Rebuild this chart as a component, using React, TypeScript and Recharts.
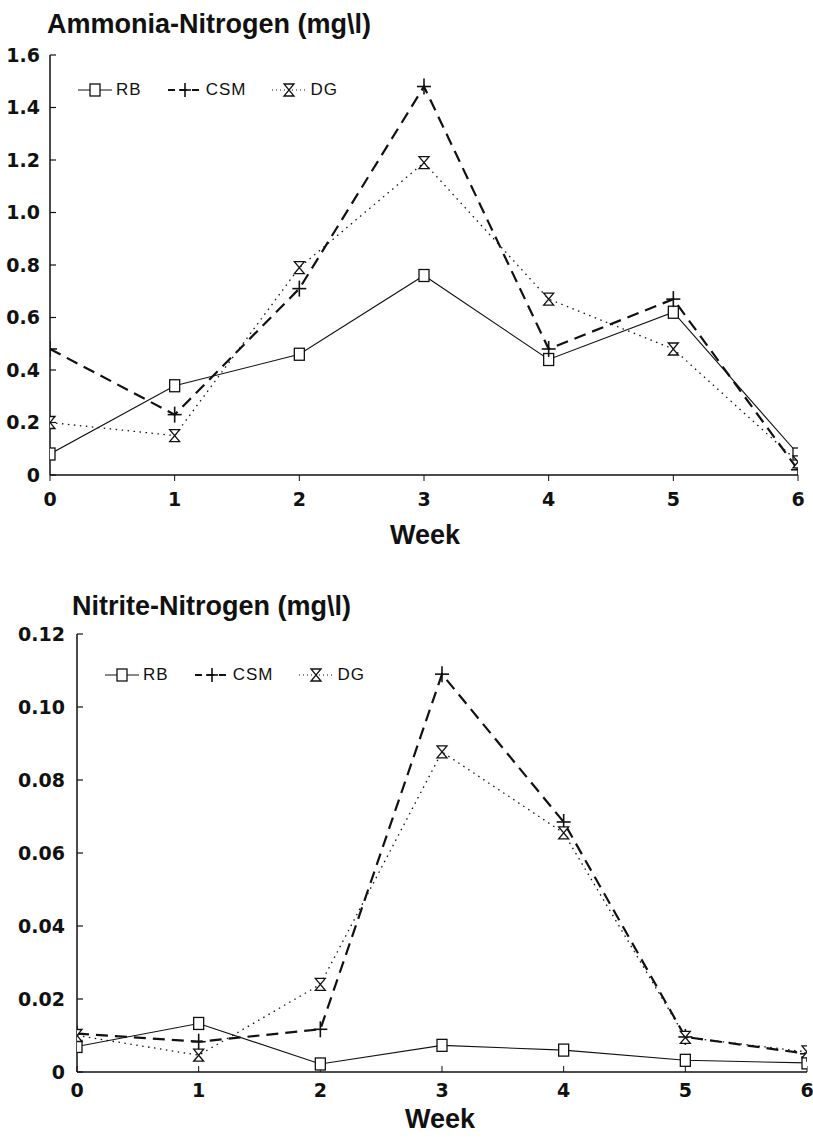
import React from "react";
import { LineChart, Line, XAxis, YAxis } from "recharts";

const weeks = [0, 1, 2, 3, 4, 5, 6];

const ammoniaRB = [0.08, 0.34, 0.46, 0.76, 0.44, 0.62, 0.08];
const ammoniaCSM = [0.48, 0.23, 0.71, 1.48, 0.48, 0.67, 0.02];
const ammoniaDG = [0.2, 0.15, 0.79, 1.19, 0.67, 0.48, 0.05];

const nitriteRB = [0.007, 0.0133, 0.0022, 0.0073, 0.006, 0.0032, 0.0025];
const nitriteCSM = [0.0105, 0.0083, 0.0117, 0.109, 0.0685, 0.0096, 0.005];
const nitriteDG = [0.01, 0.0046, 0.024, 0.0877, 0.0655, 0.0095, 0.0055];

const ammoniaTicks = [0, 0.2, 0.4, 0.6, 0.8, 1.0, 1.2, 1.4, 1.6];
const nitriteTicks = [0, 0.02, 0.04, 0.06, 0.08, 0.1, 0.12];

const seriesNames = ["RB", "CSM", "DG"];

const ammoniaData = weeks.map((w, i) => ({
  week: w,
  RB: ammoniaRB[i],
  CSM: ammoniaCSM[i],
  DG: ammoniaDG[i],
}));
const nitriteData = weeks.map((w, i) => ({
  week: w,
  RB: nitriteRB[i],
  CSM: nitriteCSM[i],
  DG: nitriteDG[i],
}));

const INK = "#111";
const FONT = "'DejaVu Sans', Arial, sans-serif";

function SquareDot(props: any) {
  const { cx, cy } = props;
  if (cx == null || cy == null) return null;
  return <rect x={cx - 5} y={cy - 6} width={10} height={12} fill="#fff" stroke={INK} strokeWidth={1.3} />;
}
function PlusDot(props: any) {
  const { cx, cy } = props;
  if (cx == null || cy == null) return null;
  return (
    <g stroke={INK} strokeWidth={1.6}>
      <line x1={cx - 7} y1={cy} x2={cx + 7} y2={cy} />
      <line x1={cx} y1={cy - 8} x2={cx} y2={cy + 8} />
    </g>
  );
}
function HourglassDot(props: any) {
  const { cx, cy } = props;
  if (cx == null || cy == null) return null;
  return (
    <path
      d={`M${cx - 5},${cy - 6} L${cx + 5},${cy - 6} L${cx - 5},${cy + 6} L${cx + 5},${cy + 6} Z`}
      fill="#fff"
      stroke={INK}
      strokeWidth={1.3}
    />
  );
}

function LegendSymbol({ kind }: { kind: string }) {
  const w = 34;
  if (kind === "RB") {
    return (
      <svg width={w} height={16} style={{ verticalAlign: "middle" }}>
        <line x1={0} y1={8} x2={w} y2={8} stroke={INK} strokeWidth={1.2} />
        <rect x={w / 2 - 5} y={2} width={10} height={12} fill="#fff" stroke={INK} strokeWidth={1.3} />
      </svg>
    );
  }
  if (kind === "CSM") {
    return (
      <svg width={w} height={16} style={{ verticalAlign: "middle" }}>
        <line x1={0} y1={8} x2={w} y2={8} stroke={INK} strokeWidth={2} strokeDasharray="7 5" />
        <line x1={w / 2 - 6} y1={8} x2={w / 2 + 6} y2={8} stroke={INK} strokeWidth={1.6} />
        <line x1={w / 2} y1={1} x2={w / 2} y2={15} stroke={INK} strokeWidth={1.6} />
      </svg>
    );
  }
  return (
    <svg width={w} height={16} style={{ verticalAlign: "middle" }}>
      <line x1={0} y1={8} x2={w} y2={8} stroke={INK} strokeWidth={1.2} strokeDasharray="1 3" />
      <path
        d={`M${w / 2 - 5},2 L${w / 2 + 5},2 L${w / 2 - 5},14 L${w / 2 + 5},14 Z`}
        fill="#fff"
        stroke={INK}
        strokeWidth={1.3}
      />
    </svg>
  );
}

function LegendRow({ left, top }: { left: number; top: number }) {
  return (
    <div
      style={{
        position: "absolute",
        left,
        top,
        display: "flex",
        alignItems: "center",
        fontFamily: "Arial, 'Liberation Sans', sans-serif",
        fontSize: 17,
        letterSpacing: 1,
        color: INK,
      }}
    >
      {seriesNames.map((n) => (
        <span key={n} style={{ display: "flex", alignItems: "center", marginRight: 26 }}>
          <LegendSymbol kind={n} />
          <span style={{ marginLeft: 4 }}>{n}</span>
        </span>
      ))}
    </div>
  );
}

const tickStyle = { fontFamily: FONT, fontWeight: 700, fontSize: 19, fill: INK };

function renderLines() {
  return [
    <Line
      key="RB"
      type="linear"
      dataKey="RB"
      stroke={INK}
      strokeWidth={1.1}
      dot={<SquareDot />}
      activeDot={false}
      isAnimationActive={false}
    />,
    <Line
      key="CSM"
      type="linear"
      dataKey="CSM"
      stroke={INK}
      strokeWidth={2.2}
      strokeDasharray="12 7"
      dot={<PlusDot />}
      activeDot={false}
      isAnimationActive={false}
    />,
    <Line
      key="DG"
      type="linear"
      dataKey="DG"
      stroke={INK}
      strokeWidth={1.3}
      strokeDasharray="1.5 4.5"
      dot={<HourglassDot />}
      activeDot={false}
      isAnimationActive={false}
    />,
  ];
}

const titleStyle: React.CSSProperties = {
  position: "absolute",
  fontFamily: "Arial, 'Liberation Sans', sans-serif",
  fontWeight: 700,
  fontSize: 27,
  color: INK,
  whiteSpace: "nowrap",
  lineHeight: "30px",
};

export default function App() {
  return (
    <div style={{ position: "absolute", left: 0, top: 0, width: 813, height: 1139, background: "#fff", overflow: "hidden" }}>
      {/* Top chart */}
      <div style={{ ...titleStyle, left: 47, top: 9 }}>Ammonia-Nitrogen (mg\l)</div>
      <div style={{ position: "absolute", left: 0, top: 0 }}>
        <LineChart width={813} height={560} data={ammoniaData} margin={{ top: 55, right: 15, left: 0, bottom: 55 }}>
          <XAxis
            dataKey="week"
            type="number"
            domain={[0, 6]}
            ticks={weeks}
            axisLine={{ stroke: INK, strokeWidth: 1.5 }}
            tickLine={{ stroke: INK, strokeWidth: 1 }}
            tickSize={6}
            tickMargin={12}
            tick={tickStyle}
            height={30}
            allowDataOverflow
          />
          <YAxis
            type="number"
            domain={[0, 1.6]}
            ticks={ammoniaTicks}
            width={50}
            axisLine={{ stroke: INK, strokeWidth: 1.5 }}
            tickLine={{ stroke: INK, strokeWidth: 1.2 }}
            tickSize={-6}
            tickMargin={16}
            tick={tickStyle}
            tickFormatter={(v: number) => (v === 0 ? "0" : v.toFixed(1))}
            allowDataOverflow
          />
          {renderLines()}
        </LineChart>
      </div>
      <LegendRow left={78} top={80} />
      <div style={{ ...titleStyle, left: 425, top: 520, transform: "translateX(-50%)" }}>Week</div>

      {/* Bottom chart */}
      <div style={{ ...titleStyle, left: 72, top: 591 }}>Nitrite-Nitrogen (mg\l)</div>
      <div style={{ position: "absolute", left: 0, top: 580 }}>
        <LineChart width={813} height={559} data={nitriteData} margin={{ top: 54, right: 6, left: 0, bottom: 37 }}>
          <XAxis
            dataKey="week"
            type="number"
            domain={[0, 6]}
            ticks={weeks}
            axisLine={{ stroke: INK, strokeWidth: 1.5 }}
            tickLine={{ stroke: INK, strokeWidth: 1 }}
            tickSize={-6}
            tickMargin={18}
            tick={tickStyle}
            height={30}
            allowDataOverflow
          />
          <YAxis
            type="number"
            domain={[0, 0.12]}
            ticks={nitriteTicks}
            width={77}
            axisLine={{ stroke: INK, strokeWidth: 1.5 }}
            tickLine={{ stroke: INK, strokeWidth: 1.2 }}
            tickSize={-6}
            tickMargin={18}
            tick={tickStyle}
            tickFormatter={(v: number) => (v === 0 ? "0" : v.toFixed(2))}
            allowDataOverflow
          />
          {renderLines()}
        </LineChart>
      </div>
      <LegendRow left={105} top={665} />
      <div style={{ ...titleStyle, left: 440, top: 1104, transform: "translateX(-50%)" }}>Week</div>
    </div>
  );
}
